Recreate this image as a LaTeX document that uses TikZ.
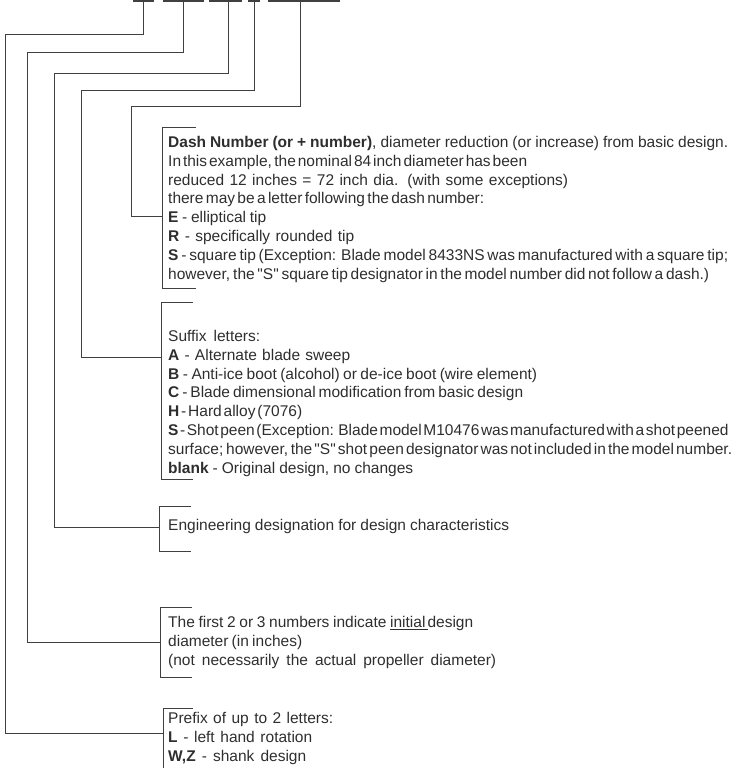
\documentclass[tikz,border=0pt]{standalone}
\usepackage{fontspec}
\usepackage{graphicx}
\setmainfont{Liberation Sans}
\definecolor{ink}{gray}{0.18}
\definecolor{rule}{gray}{0.25}

% one text line set to a given width (pt)
\newcommand\fitline[2]{%
  \setbox0=\hbox{\spaceskip=1.6pt\relax#2}%
  \ifdim\wd0>#1pt
    \pgfmathsetmacro\fitfac{#1/\the\wd0}%
    \scalebox{\fitfac}[1]{\box0}%
  \else
    \hbox to #1pt{\spaceskip=4.3pt plus 6pt minus 2.7pt\relax#2}%
  \fi}
\newcommand\qS{\textquotedbl S\textquotedbl}

\tikzset{
  wire/.style={draw=rule, line width=0.9pt},
  brk/.style={draw=rule, line width=0.9pt},
  bar/.style={fill=rule, inner sep=0pt, minimum height=2.5pt},
  note/.style={anchor=north west, inner sep=0pt, align=left, text=ink,
    font=\fontsize{15.5}{18.9}\selectfont},
}

\begin{document}
\begin{tikzpicture}[x=1pt, y=-1pt]
\useasboundingbox (0,0) rectangle (738,768);

% blanks of the model number
\node[bar, minimum width=21pt] (bar1) at (143.5,1) {};
\node[bar, minimum width=41pt] (bar2) at (183.5,1) {};
\node[bar, minimum width=33pt] (bar3) at (225.5,1) {};
\node[bar, minimum width=12pt] (bar4) at (254,1) {};
\node[bar, minimum width=72pt] (bar5) at (304,1) {};

% texts
\node[note] (dashno) at (168,133.5) {\rule{0pt}{13.5pt}%
  \fitline{560}{\textbf{Dash Number (or + number)}, diameter reduction (or increase) from basic design.}\\
  \fitline{359}{In this example, the nominal 84 inch diameter has been}\\
  \fitline{400}{reduced 12 inches = 72 inch dia. (with some exceptions)}\\
  \fitline{316}{there may be a letter following the dash number:}\\
  \fitline{98}{\textbf{E} - elliptical tip}\\
  \fitline{186}{\textbf{R} - specifically rounded tip}\\
  \fitline{560}{\textbf{S} - square tip (Exception:  Blade model 8433NS was manufactured with a square tip;}\\
  \fitline{541}{however, the \qS{} square tip designator in the model number did not follow a dash.)}};

\node[note] (suffix) at (168,327.5) {\rule{0pt}{13.5pt}%
  \fitline{92}{Suffix letters:}\\
  \fitline{182}{\textbf{A} - Alternate blade sweep}\\
  \fitline{369}{\textbf{B} - Anti-ice boot (alcohol) or de-ice boot (wire element)}\\
  \fitline{355}{\textbf{C} - Blade dimensional modification from basic design}\\
  \fitline{134}{\textbf{H} - Hard alloy (7076)}\\
  \fitline{560}{\textbf{S} - Shot peen (Exception: Blade model M10476 was manufactured with a shot peened}\\
  \fitline{564}{surface; however, the \qS{} shot peen designator was not included in the model number.}\\
  \fitline{245}{\textbf{blank} - Original design, no changes}};

\node[note] (engdes) at (168,516.5) {\rule{0pt}{13.5pt}%
  \fitline{341}{Engineering designation for design characteristics}};

\node[note] (initial) at (168,613.5) {\rule{0pt}{13.5pt}%
  \fitline{305}{The first 2 or 3 numbers indicate \underline{initial\kern2pt}design}\\
  \fitline{134}{diameter (in inches)}\\
  \fitline{328}{(not necessarily the actual propeller diameter)}};

\node[note] (prefix) at (168,709.5) {\rule{0pt}{13.5pt}%
  \fitline{165}{Prefix of up to 2 letters:}\\
  \fitline{144}{\textbf{L} - left hand rotation}\\
  \fitline{138}{\textbf{W,Z} - shank design}};

% brackets
\draw[brk] (196,127) -- (162,127) -- (162,288) -- (196,288);
\draw[brk] (193,302) -- (161,302) -- (161,479) -- (193,479);
\draw[brk] (191,506) -- (159,506) -- (159,551) -- (191,551);
\draw[brk] (192,607) -- (160,607) -- (160,677) -- (192,677);
\draw[brk] (193,708) -- (163,708) -- (163,768);
\coordinate (dashJ) at (162,216);
\coordinate (sufJ) at (161,357);
\coordinate (engJ) at (159,527);
\coordinate (iniJ) at (160,642);
\coordinate (preJ) at (163,733);

% leaders
\draw[wire] ([xshift=-0.5pt]bar1.south) |- (5,34) |- (preJ);
\draw[wire] ([xshift=-0.5pt]bar2.south) |- (27,52) |- (iniJ);
\draw[wire] ([xshift=2.5pt]bar3.south) |- (54,73) |- (engJ);
\draw[wire] (bar4.south) |- (81,90) |- (sufJ);
\draw[wire] ([xshift=-4pt]bar5.south) |- (131,106) |- (dashJ);
\end{tikzpicture}
\end{document}
